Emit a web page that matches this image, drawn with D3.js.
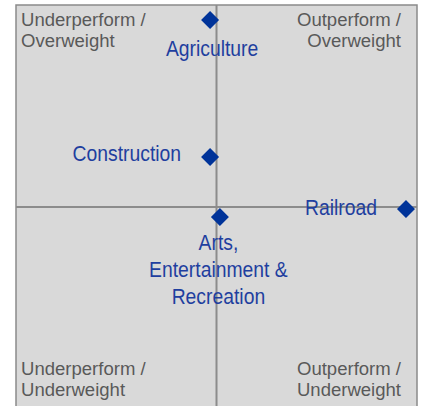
<!DOCTYPE html>
<html>
<head>
<meta charset="utf-8">
<script src="https://cdn.jsdelivr.net/npm/d3@7"></script>
<style>
  html, body { margin: 0; padding: 0; background: #ffffff; }
  svg { display: block; font-family: "Liberation Sans", Arial, sans-serif; }
</style>
</head>
<body>
<div id="chart"></div>
<script>
// sectors and their position (relative performance vs. weighting)
const sectors = ["Agriculture", "Construction", "Railroad", "Arts, Entertainment & Recreation"];
const performance = [-0.032, -0.032, 0.945, 0.017];
const weighting = [0.926, 0.248, -0.01, -0.05];

const quadrantLabels = [
  ["Underperform /", "Overweight"],
  ["Outperform /", "Overweight"],
  ["Underperform /", "Underweight"],
  ["Outperform /", "Underweight"]
];

const width = 428, height = 406;
const box = { left: 16, right: 417, top: 5, bottom: 409 };

const svg = d3.select("#chart").append("svg")
  .attr("width", width)
  .attr("height", height);

const x = d3.scaleLinear().domain([-1, 1]).range([box.left, box.right]);
const y = d3.scaleLinear().domain([-1, 1]).range([box.bottom, box.top]);

// background
svg.append("rect")
  .attr("x", box.left).attr("y", box.top)
  .attr("width", box.right - box.left)
  .attr("height", box.bottom - box.top)
  .attr("fill", "#d9d9d9")
  .attr("stroke", "#8a8a8a")
  .attr("stroke-width", 1.5);

// center lines
svg.append("line")
  .attr("x1", x(0)).attr("x2", x(0))
  .attr("y1", box.top).attr("y2", box.bottom)
  .attr("stroke", "#8c8c8c").attr("stroke-width", 2);
svg.append("line")
  .attr("x1", box.left).attr("x2", box.right)
  .attr("y1", y(0)).attr("y2", y(0))
  .attr("stroke", "#8c8c8c").attr("stroke-width", 2);

// quadrant labels
const qPos = [
  { x: 21, y: 26, anchor: "start" },
  { x: 401, y: 26, anchor: "end" },
  { x: 21, y: 375, anchor: "start" },
  { x: 401, y: 375, anchor: "end" }
];
quadrantLabels.forEach((lines, i) => {
  const t = svg.append("text")
    .attr("transform", `translate(${qPos[i].x},${qPos[i].y}) scale(1.06,1)`)
    .attr("text-anchor", qPos[i].anchor)
    .attr("font-size", 17.5)
    .attr("fill", "#595959");
  lines.forEach((l, j) => {
    t.append("tspan").attr("x", 0).attr("dy", j === 0 ? 0 : 21.5).text(l);
  });
});

// points
const pts = sectors.map((s, i) => ({ name: s, px: performance[i], py: weighting[i] }));

svg.append("g").selectAll("path")
  .data(pts)
  .join("path")
  .attr("d", d3.symbol().type(d3.symbolSquare).size(162))
  .attr("transform", d => `translate(${x(d.px)},${y(d.py)}) rotate(45)`)
  .attr("fill", "#003399");

// point labels
const labelPlace = {
  "Agriculture": { dx: 2, dy: 36, anchor: "middle", lines: ["Agriculture"] },
  "Construction": { dx: -29, dy: 4, anchor: "end", lines: ["Construction"] },
  "Railroad": { dx: -29, dy: 6, anchor: "end", lines: ["Railroad"] },
  "Arts, Entertainment & Recreation": { dx: -1.5, dy: 33, anchor: "middle",
    lines: ["Arts,", "Entertainment &", "Recreation"] }
};

pts.forEach(d => {
  const p = labelPlace[d.name];
  const t = svg.append("text")
    .attr("transform", `translate(${x(d.px) + p.dx},${y(d.py) + p.dy}) scale(0.86,1)`)
    .attr("text-anchor", p.anchor)
    .attr("font-size", 22.5)
    .attr("fill", "#1f3f9f");
  p.lines.forEach((l, j) => {
    t.append("tspan").attr("x", 0).attr("dy", j === 0 ? 0 : 27).text(l);
  });
});
</script>
</body>
</html>
